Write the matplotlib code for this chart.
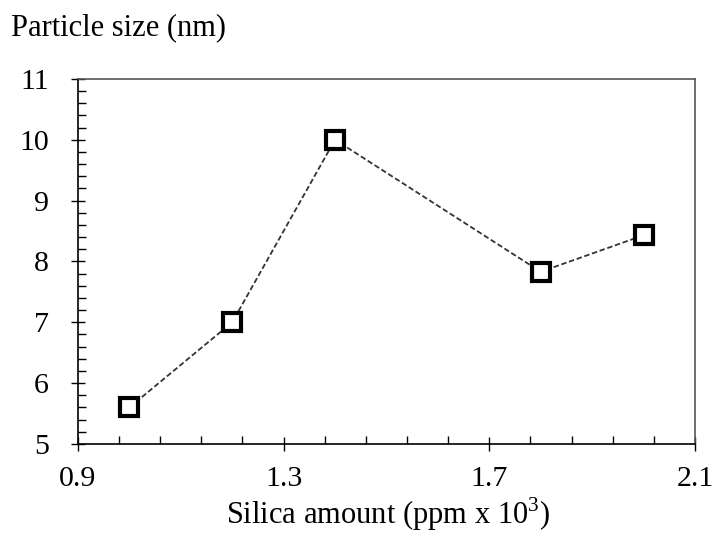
import numpy as np
import matplotlib.pyplot as plt
from matplotlib.ticker import FixedLocator

# data
silica = [1.0, 1.2, 1.4, 1.8, 2.0]
particle_size = [5.6, 7.0, 10.0, 7.83, 8.43]
x_ticks = [0.9, 1.3, 1.7, 2.1]
x_tick_labels = ['0.9', '1.3', '1.7', '2.1']
y_ticks = [5, 6, 7, 8, 9, 10, 11]

plt.rcParams['font.family'] = ['Liberation Serif', 'DejaVu Serif']
plt.rcParams['mathtext.fontset'] = 'custom'
plt.rcParams['mathtext.rm'] = 'Liberation Serif'

fig = plt.figure(figsize=(7.15, 5.33), dpi=100)
ax = fig.add_axes([0.109, 0.167, 0.863, 0.685])

ax.plot(silica, particle_size, linestyle=(0, (3, 1.5)), color='#333333', linewidth=1.3,
        marker='s', markersize=13, markerfacecolor='white',
        markeredgecolor='black', markeredgewidth=3)

ax.set_xlim(0.9, 2.1)
ax.set_ylim(5, 11)
ax.set_xticks(x_ticks)
ax.set_xticklabels(x_tick_labels)
ax.set_yticks(y_ticks)
# four minor ticks between each pair of majors
ax.xaxis.set_minor_locator(FixedLocator(np.arange(0.9, 2.1001, 0.08)))
ax.yaxis.set_minor_locator(FixedLocator(np.arange(5, 11.001, 0.2)))

ax.tick_params(which='major', direction='inout', length=10, width=1,
               labelsize=21.5, top=False, right=False)
ax.tick_params(which='minor', direction='in', length=6, width=1,
               top=False, right=False)
ax.tick_params(axis='x', which='major', pad=11)
ax.tick_params(axis='y', which='major', pad=16)

for side in ['left', 'bottom']:
    ax.spines[side].set_color('black')
    ax.spines[side].set_linewidth(1.2)
for side in ['top', 'right']:
    ax.spines[side].set_color('#555555')
    ax.spines[side].set_linewidth(1.2)

fig.text(0.016, 0.948, 'Particle size (nm)', fontsize=22, va='center', ha='left')
fig.text(0.543, 0.0, r'Silica amount (ppm x 10$^{\mathrm{3}}$)', fontsize=22,
         va='bottom', ha='center')

plt.savefig('out.png', dpi=100)
